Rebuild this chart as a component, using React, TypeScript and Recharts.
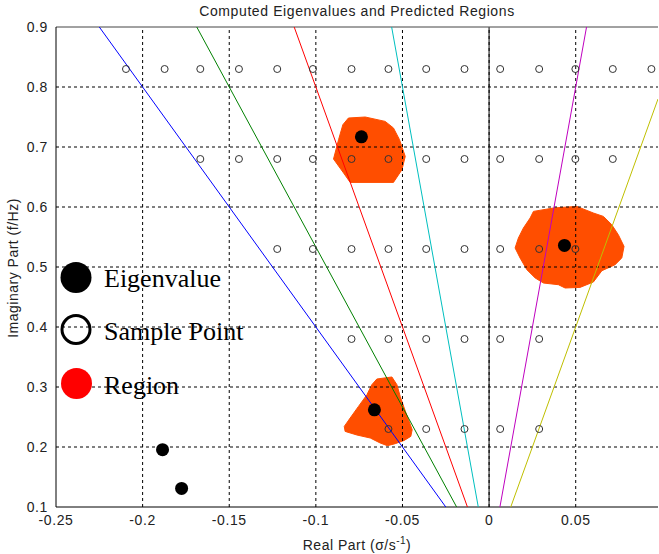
import React from "react";
import {
  ComposedChart,
  Scatter,
  XAxis,
  YAxis,
  ReferenceLine,
  Label,
} from "recharts";

const xTicks = [-0.25, -0.2, -0.15, -0.1, -0.05, 0, 0.05];
const yTicks = [0.1, 0.2, 0.3, 0.4, 0.5, 0.6, 0.7, 0.8, 0.9];
const X_MIN = -0.25;
const X_MAX = 0.0975;
const Y_MIN = 0.1;
const Y_MAX = 0.9;

// sample grid (open circles), one x list per row
const sampleRowY = [0.83, 0.68, 0.53, 0.38, 0.23];
const sampleRowX = [
  [-0.2096, -0.1873, -0.1667, -0.1444, -0.1223, -0.1017, -0.0794, -0.0581, -0.0363, -0.0142, 0.0064, 0.0289, 0.0498, 0.0714, 0.0937],
  [-0.1667, -0.1444, -0.1223, -0.1017, -0.0794, -0.0581, -0.0363, -0.0142, 0.0064, 0.0289, 0.0498, 0.0714],
  [-0.1223, -0.1017, -0.0794, -0.0581, -0.0363, -0.0142, 0.0064, 0.0289, 0.0498],
  [-0.0794, -0.0581, -0.0363, -0.0142, 0.0064, 0.0289],
  [-0.0581, -0.0363, -0.0142, 0.0064, 0.0289],
];

// computed eigenvalues (filled dots)
const eigX = [-0.0737, 0.0435, -0.0662, -0.1885, -0.1775];
const eigY = [0.717, 0.536, 0.262, 0.1955, 0.131];

// predicted regions (outlines)
const regionUpper = [
  { x: -0.0812, y: 0.7483 }, { x: -0.0715, y: 0.75 }, { x: -0.06, y: 0.7427 },
  { x: -0.0552, y: 0.7317 }, { x: -0.0517, y: 0.7122 }, { x: -0.0484, y: 0.6843 },
  { x: -0.0503, y: 0.6622 }, { x: -0.0552, y: 0.641 }, { x: -0.0802, y: 0.641 },
  { x: -0.084, y: 0.6567 }, { x: -0.0898, y: 0.68 }, { x: -0.0869, y: 0.7122 },
  { x: -0.0844, y: 0.7372 },
];
const regionRight = [
  { x: 0.0256, y: 0.5927 }, { x: 0.0371, y: 0.5983 }, { x: 0.0506, y: 0.601 },
  { x: 0.0602, y: 0.59 }, { x: 0.066, y: 0.5843 }, { x: 0.0708, y: 0.5705 },
  { x: 0.0746, y: 0.5538 }, { x: 0.0779, y: 0.5343 }, { x: 0.0766, y: 0.515 },
  { x: 0.0727, y: 0.5038 }, { x: 0.0651, y: 0.4938 }, { x: 0.0602, y: 0.475 },
  { x: 0.0525, y: 0.466 }, { x: 0.0439, y: 0.465 }, { x: 0.04, y: 0.4705 },
  { x: 0.0314, y: 0.4733 }, { x: 0.0266, y: 0.4817 }, { x: 0.0218, y: 0.4955 },
  { x: 0.0179, y: 0.515 }, { x: 0.015, y: 0.5317 }, { x: 0.0169, y: 0.5483 },
  { x: 0.0198, y: 0.565 }, { x: 0.0237, y: 0.5817 },
];
const regionLower = [
  { x: -0.0648, y: 0.3133 }, { x: -0.0561, y: 0.3167 }, { x: -0.0532, y: 0.3038 },
  { x: -0.0513, y: 0.2843 }, { x: -0.049, y: 0.265 }, { x: -0.0465, y: 0.2455 },
  { x: -0.0444, y: 0.2288 }, { x: -0.0452, y: 0.2177 }, { x: -0.049, y: 0.211 },
  { x: -0.0542, y: 0.2055 }, { x: -0.0587, y: 0.2022 }, { x: -0.0629, y: 0.2067 },
  { x: -0.0686, y: 0.215 }, { x: -0.0763, y: 0.22 }, { x: -0.0831, y: 0.226 },
  { x: -0.0836, y: 0.2343 }, { x: -0.0802, y: 0.2483 }, { x: -0.0754, y: 0.2677 },
  { x: -0.0705, y: 0.2872 }, { x: -0.0677, y: 0.3038 },
];

// lines through the origin, y = k * x
const raySlopes = [-4, -16 / 3, -8, -16, 16, 8];
const rayColors = ["#0000FF", "#008000", "#FF0000", "#00BFBF", "#BF00BF", "#BFBF00"];

const REGION = "#FF4E00";
const AXIS_FONT = "Arial, 'Liberation Sans', Helvetica, sans-serif";

const samplePoints = sampleRowY.flatMap((y, i) => sampleRowX[i].map((x) => ({ x, y })));
const eigPoints = eigX.map((x, i) => ({ x, y: eigY[i] }));

const rayData = raySlopes.map((k) => {
  const lo = { x: Y_MIN / k, y: Y_MIN };
  let hi = { x: Y_MAX / k, y: Y_MAX };
  if (hi.x > X_MAX) hi = { x: X_MAX, y: k * X_MAX };
  return [lo, hi];
});

// dotted grid drawn as series so it sits above the filled regions
const gridLines = [
  ...xTicks.slice(1).map((x) => [{ x, y: Y_MIN }, { x, y: Y_MAX }]),
  ...yTicks.slice(1, -1).map((y) => [{ x: X_MIN, y }, { x: X_MAX, y }]),
];

const noShape = () => <g />;

const fmt = (v: number) => String(Number(v.toFixed(2)));

export default function App() {
  return (
    <div style={{ position: "absolute", left: 0, top: 0, width: 659, height: 554, background: "#fff" }}>
      <ComposedChart
        width={659}
        height={554}
        margin={{ top: 27, right: 1, bottom: 17, left: 6 }}
        style={{ fontFamily: AXIS_FONT }}
      >
        <XAxis
          type="number"
          dataKey="x"
          domain={[X_MIN, X_MAX]}
          ticks={xTicks}
          allowDataOverflow
          tickFormatter={fmt}
          tick={{ fontSize: 14, fill: "#222", letterSpacing: 0.6 }}
          tickLine={false}
          axisLine={{ stroke: "#000" }}
          height={30}
        >
          <Label
            content={() => (
              <text x={357} y={550} textAnchor="middle" fontSize={14} fill="#222" fontFamily={AXIS_FONT} letterSpacing={0.5}>
                Real Part (σ/s
                <tspan dy={-6} fontSize={10}>-1</tspan>
                <tspan dy={6}>)</tspan>
              </text>
            )}
          />
        </XAxis>
        <YAxis
          type="number"
          dataKey="y"
          domain={[Y_MIN, Y_MAX]}
          ticks={yTicks}
          allowDataOverflow
          tickFormatter={fmt}
          tick={{ fontSize: 14, fill: "#222", letterSpacing: 0.6 }}
          tickLine={false}
          axisLine={{ stroke: "#000" }}
          width={50}
        >
          <Label
            content={() => (
              <text
                x={18}
                y={268}
                textAnchor="middle"
                fontSize={14}
                fill="#222"
                fontFamily={AXIS_FONT}
                letterSpacing={0.5}
                transform="rotate(-90 18 268)"
              >
                Imaginary Part (f/Hz)
              </text>
            )}
          />
        </YAxis>

        {[regionUpper, regionRight, regionLower].map((r, i) => (
          <Scatter
            key={`region-${i}`}
            data={r}
            fill={REGION}
            line={{ fill: REGION, stroke: REGION, strokeWidth: 1 }}
            lineJointType="linearClosed"
            shape={noShape}
            isAnimationActive={false}
          />
        ))}

        {gridLines.map((d, i) => (
          <Scatter
            key={`grid-${i}`}
            data={d}
            fill="#000"
            line={{ stroke: "#000", strokeWidth: 1, strokeDasharray: "3 3" }}
            shape={noShape}
            isAnimationActive={false}
          />
        ))}

        <ReferenceLine y={Y_MAX} stroke="#444" />
        <ReferenceLine x={0} stroke="#555" strokeWidth={1.5} />

        {rayData.map((d, i) => (
          <Scatter
            key={`ray-${i}`}
            data={d}
            fill={rayColors[i]}
            line={{ stroke: rayColors[i], strokeWidth: 1 }}
            shape={noShape}
            isAnimationActive={false}
          />
        ))}

        <Scatter
          data={samplePoints}
          shape={(p: any) => <circle cx={p.cx} cy={p.cy} r={3.5} fill="none" stroke="#333" strokeWidth={1} />}
          isAnimationActive={false}
        />
        <Scatter
          data={eigPoints}
          shape={(p: any) => <circle cx={p.cx} cy={p.cy} r={6.5} fill="#000" />}
          isAnimationActive={false}
        />
      </ComposedChart>

      <svg
        width={659}
        height={554}
        style={{ position: "absolute", left: 0, top: 0, pointerEvents: "none" }}
      >
        <text x={357} y={16} textAnchor="middle" fontSize={14} fill="#222" fontFamily={AXIS_FONT} letterSpacing={0.6}>
          Computed Eigenvalues and Predicted Regions
        </text>
        <g fontFamily="'Times New Roman', 'Liberation Serif', serif" fontSize={26}>
          <circle cx={76} cy={277.5} r={15.5} fill="#000" />
          <text x={104} y={287} fill="#000">Eigenvalue</text>
          <circle cx={76} cy={329.5} r={14} fill="none" stroke="#000" strokeWidth={3} />
          <text x={104} y={340} fill="#000">Sample Point</text>
          <circle cx={76.5} cy={383.5} r={15.5} fill="#FF0000" />
          <text x={104} y={394} fill="#000">Region</text>
        </g>
      </svg>
    </div>
  );
}
